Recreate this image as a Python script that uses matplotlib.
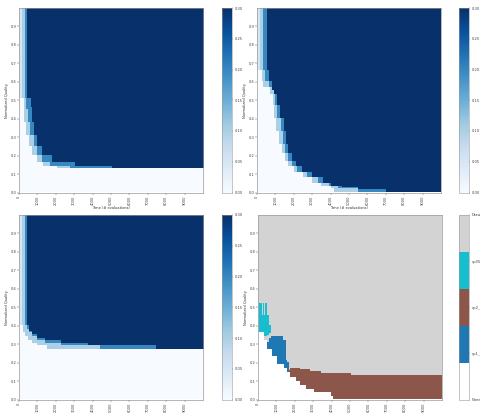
import numpy as np
import matplotlib
matplotlib.use('Agg')
import matplotlib.pyplot as plt
from matplotlib.colors import ListedColormap

NEVER = 9.0  # quality threshold above the plot: level not reached at that time

# attainment steps: time where a step starts -> lowest normalized quality reached
levels = [0.05, 0.10, 0.20, 0.30]

p1_x = [[0, 145],
        [0, 145, 230, 272, 416, 561, 688, 960, 1323, 2047],
        [0, 290, 416, 507, 598, 779, 960, 1232, 1685, 2772],
        [0, 470, 650, 690, 780, 960, 1230, 1780, 3040, 5040]]
p1_y = [[0.51, NEVER],
        [NEVER, 0.51, 0.45, 0.38, 0.31, 0.25, 0.20, 0.16, 0.14, 0.13],
        [NEVER, 0.51, 0.45, 0.38, 0.31, 0.25, 0.20, 0.16, 0.14, 0.13],
        [NEVER, 0.51, 0.46, 0.38, 0.31, 0.25, 0.20, 0.16, 0.14, 0.13]]

p2_x = [[0, 130],
        [0, 130, 250, 350, 700, 850, 950, 1050, 1200, 1350, 1500, 1700, 2000, 2500,
         3000, 3500, 4000, 4200],
        [0, 330, 450, 630, 900, 1000, 1100, 1300, 1400, 1500, 1700, 1900, 2200, 2700,
         3300, 3900, 4400, 5500],
        [0, 540, 630, 800, 900, 1090, 1270, 1450, 1540, 1700, 1900, 2100, 2450, 3000,
         3600, 4000, 4600, 5500, 7000]]
p2_y = [[0.66, NEVER],
        [NEVER, 0.66, 0.60, 0.57, 0.53, 0.47, 0.40, 0.33, 0.26, 0.21, 0.17, 0.14, 0.11,
         0.08, 0.05, 0.035, 0.02, 0.0],
        [NEVER, 0.66, 0.60, 0.57, 0.53, 0.47, 0.40, 0.33, 0.26, 0.21, 0.17, 0.14, 0.11,
         0.08, 0.05, 0.035, 0.02, 0.0],
        [NEVER, 0.66, 0.60, 0.55, 0.53, 0.47, 0.40, 0.33, 0.26, 0.21, 0.17, 0.14, 0.11,
         0.08, 0.05, 0.035, 0.025, 0.015, 0.0]]

p3_x = [[0, 145],
        [0, 145, 200, 350, 500, 700, 1000, 1500],
        [0, 290, 450, 560, 700, 960, 1400, 2230, 4400],
        [0, 470, 560, 690, 960, 1400, 2230, 3770, 7400]]
p3_y = [[0.40, NEVER],
        [NEVER, 0.40, 0.36, 0.34, 0.32, 0.305, 0.29, 0.27],
        [NEVER, 0.40, 0.38, 0.36, 0.34, 0.32, 0.305, 0.29, 0.27],
        [NEVER, 0.40, 0.37, 0.35, 0.33, 0.32, 0.305, 0.29, 0.27]]

# panel 4: which operator wins (categories)
cat_labels = ['None', 'op1_mutation', 'op2_mutation', 'op05_mutation', 'Draw']
cat_colors = ['white', '#1f77b4', '#8c564b', '#17becf', 'lightgray']

none_x = [0, 310, 490, 765, 1040, 1400, 1580, 1765, 2040, 2310, 2585, 3040, 3950, 4050]
none_y = [0.36, 0.32, 0.27, 0.23, 0.19, 0.165, 0.147, 0.12, 0.093, 0.074, 0.056, 0.038,
          0.015, 0.0]
cyan_x = [0, 50, 200, 250, 350, 400, 500, 600, 700]
cyan_lo = [NEVER, 0.355, 0.355, 0.35, 0.34, 0.34, 0.345, 0.355, NEVER]
cyan_hi = [0, 0.52, 0.455, 0.52, 0.455, 0.52, 0.455, 0.40, 0]
blue_x = [0, 500, 600, 700, 1350, 1500, 1600, 1700]
blue_hi = [0, 0.31, 0.33, 0.338, 0.32, 0.21, 0.20, 0]
brown_x = [0, 1650, 1750, 2300, 2850, 3400, 5030]
brown_hi = [0, 0.155, 0.17, 0.16, 0.15, 0.142, 0.13]

xc = np.arange(25, 10000, 50)
yc = np.arange(0.0025, 1.0, 0.005)


def step(xs, ys):
    idx = np.searchsorted(xs, xc, side='right') - 1
    return np.asarray(ys, dtype=float)[idx]


def attainment(xlist, ylist):
    grid = np.zeros((len(yc), len(xc)))
    for lev, xs, ys in zip(levels, xlist, ylist):
        thr = step(xs, ys)
        mask = yc[:, None] >= thr[None, :]
        grid[mask] = np.maximum(grid[mask], lev)
    return grid


def winners():
    grid = np.full((len(yc), len(xc)), 4)
    Y = yc[:, None]
    ntop = step(none_x, none_y)[None, :]
    grid[Y < ntop] = 0
    lo = np.maximum(step(cyan_x, cyan_lo)[None, :], ntop)
    grid[(Y >= lo) & (Y < step(cyan_x, cyan_hi)[None, :])] = 3
    grid[(Y >= ntop) & (Y < step(blue_x, blue_hi)[None, :])] = 1
    grid[(Y >= ntop) & (Y < step(brown_x, brown_hi)[None, :])] = 2
    return grid


fs = 2.6
plt.rcParams['font.size'] = fs
fig = plt.figure(figsize=(4.8, 4.13), dpi=100)

ax_pos = [(19, 8), (257, 8), (19, 215), (258, 215)]
cb_pos = [222, 459, 222, 459]
grids = [attainment(p1_x, p1_y), attainment(p2_x, p2_y), attainment(p3_x, p3_y), winners()]

for i in range(4):
    left, top = ax_pos[i]
    ax = fig.add_axes([left / 480, 1 - (top + 184.5) / 413, 184 / 480, 184.5 / 413])
    cax = fig.add_axes([cb_pos[i] / 480, 1 - (top + 184.5) / 413, 10 / 480, 184.5 / 413])
    if i < 3:
        im = ax.imshow(grids[i], origin='lower', extent=[0, 10000, 0, 1], aspect='auto',
                       cmap='Blues', vmin=0, vmax=0.3, interpolation='nearest')
        cb = fig.colorbar(im, cax=cax, ticks=np.arange(0, 0.301, 0.05), format='%.2f')
    else:
        im = ax.imshow(grids[i], origin='lower', extent=[0, 10000, 0, 1], aspect='auto',
                       cmap=ListedColormap(cat_colors), vmin=0, vmax=4,
                       interpolation='nearest')
        cb = fig.colorbar(im, cax=cax, ticks=[0, 1, 2, 3, 4])
        cb.ax.set_yticklabels(cat_labels)
    cb.outline.set_linewidth(0.4)
    cb.outline.set_edgecolor('#999999')
    cb.ax.tick_params(labelsize=fs, length=1, width=0.3, pad=0.8, colors='#444444')

    ax.set_xticks(range(0, 10000, 1000))
    ax.set_xticklabels([str(v) for v in range(0, 10000, 1000)], rotation=90)
    ax.set_yticks(np.arange(0, 0.95, 0.1))
    ax.set_yticklabels(['%.1f' % v for v in np.arange(0, 0.95, 0.1)])
    ax.tick_params(labelsize=fs, length=1.2, width=0.3, pad=0.8, colors='#444444')
    ax.set_xlabel('Time (# evaluations)', fontsize=fs, labelpad=1, color='#333333')
    ax.set_ylabel('Normalized Quality', fontsize=fs, labelpad=1, color='#333333')
    for s in ax.spines.values():
        s.set_linewidth(0.5)
        s.set_edgecolor('#999999')

fig.savefig('out.png', dpi=100)
